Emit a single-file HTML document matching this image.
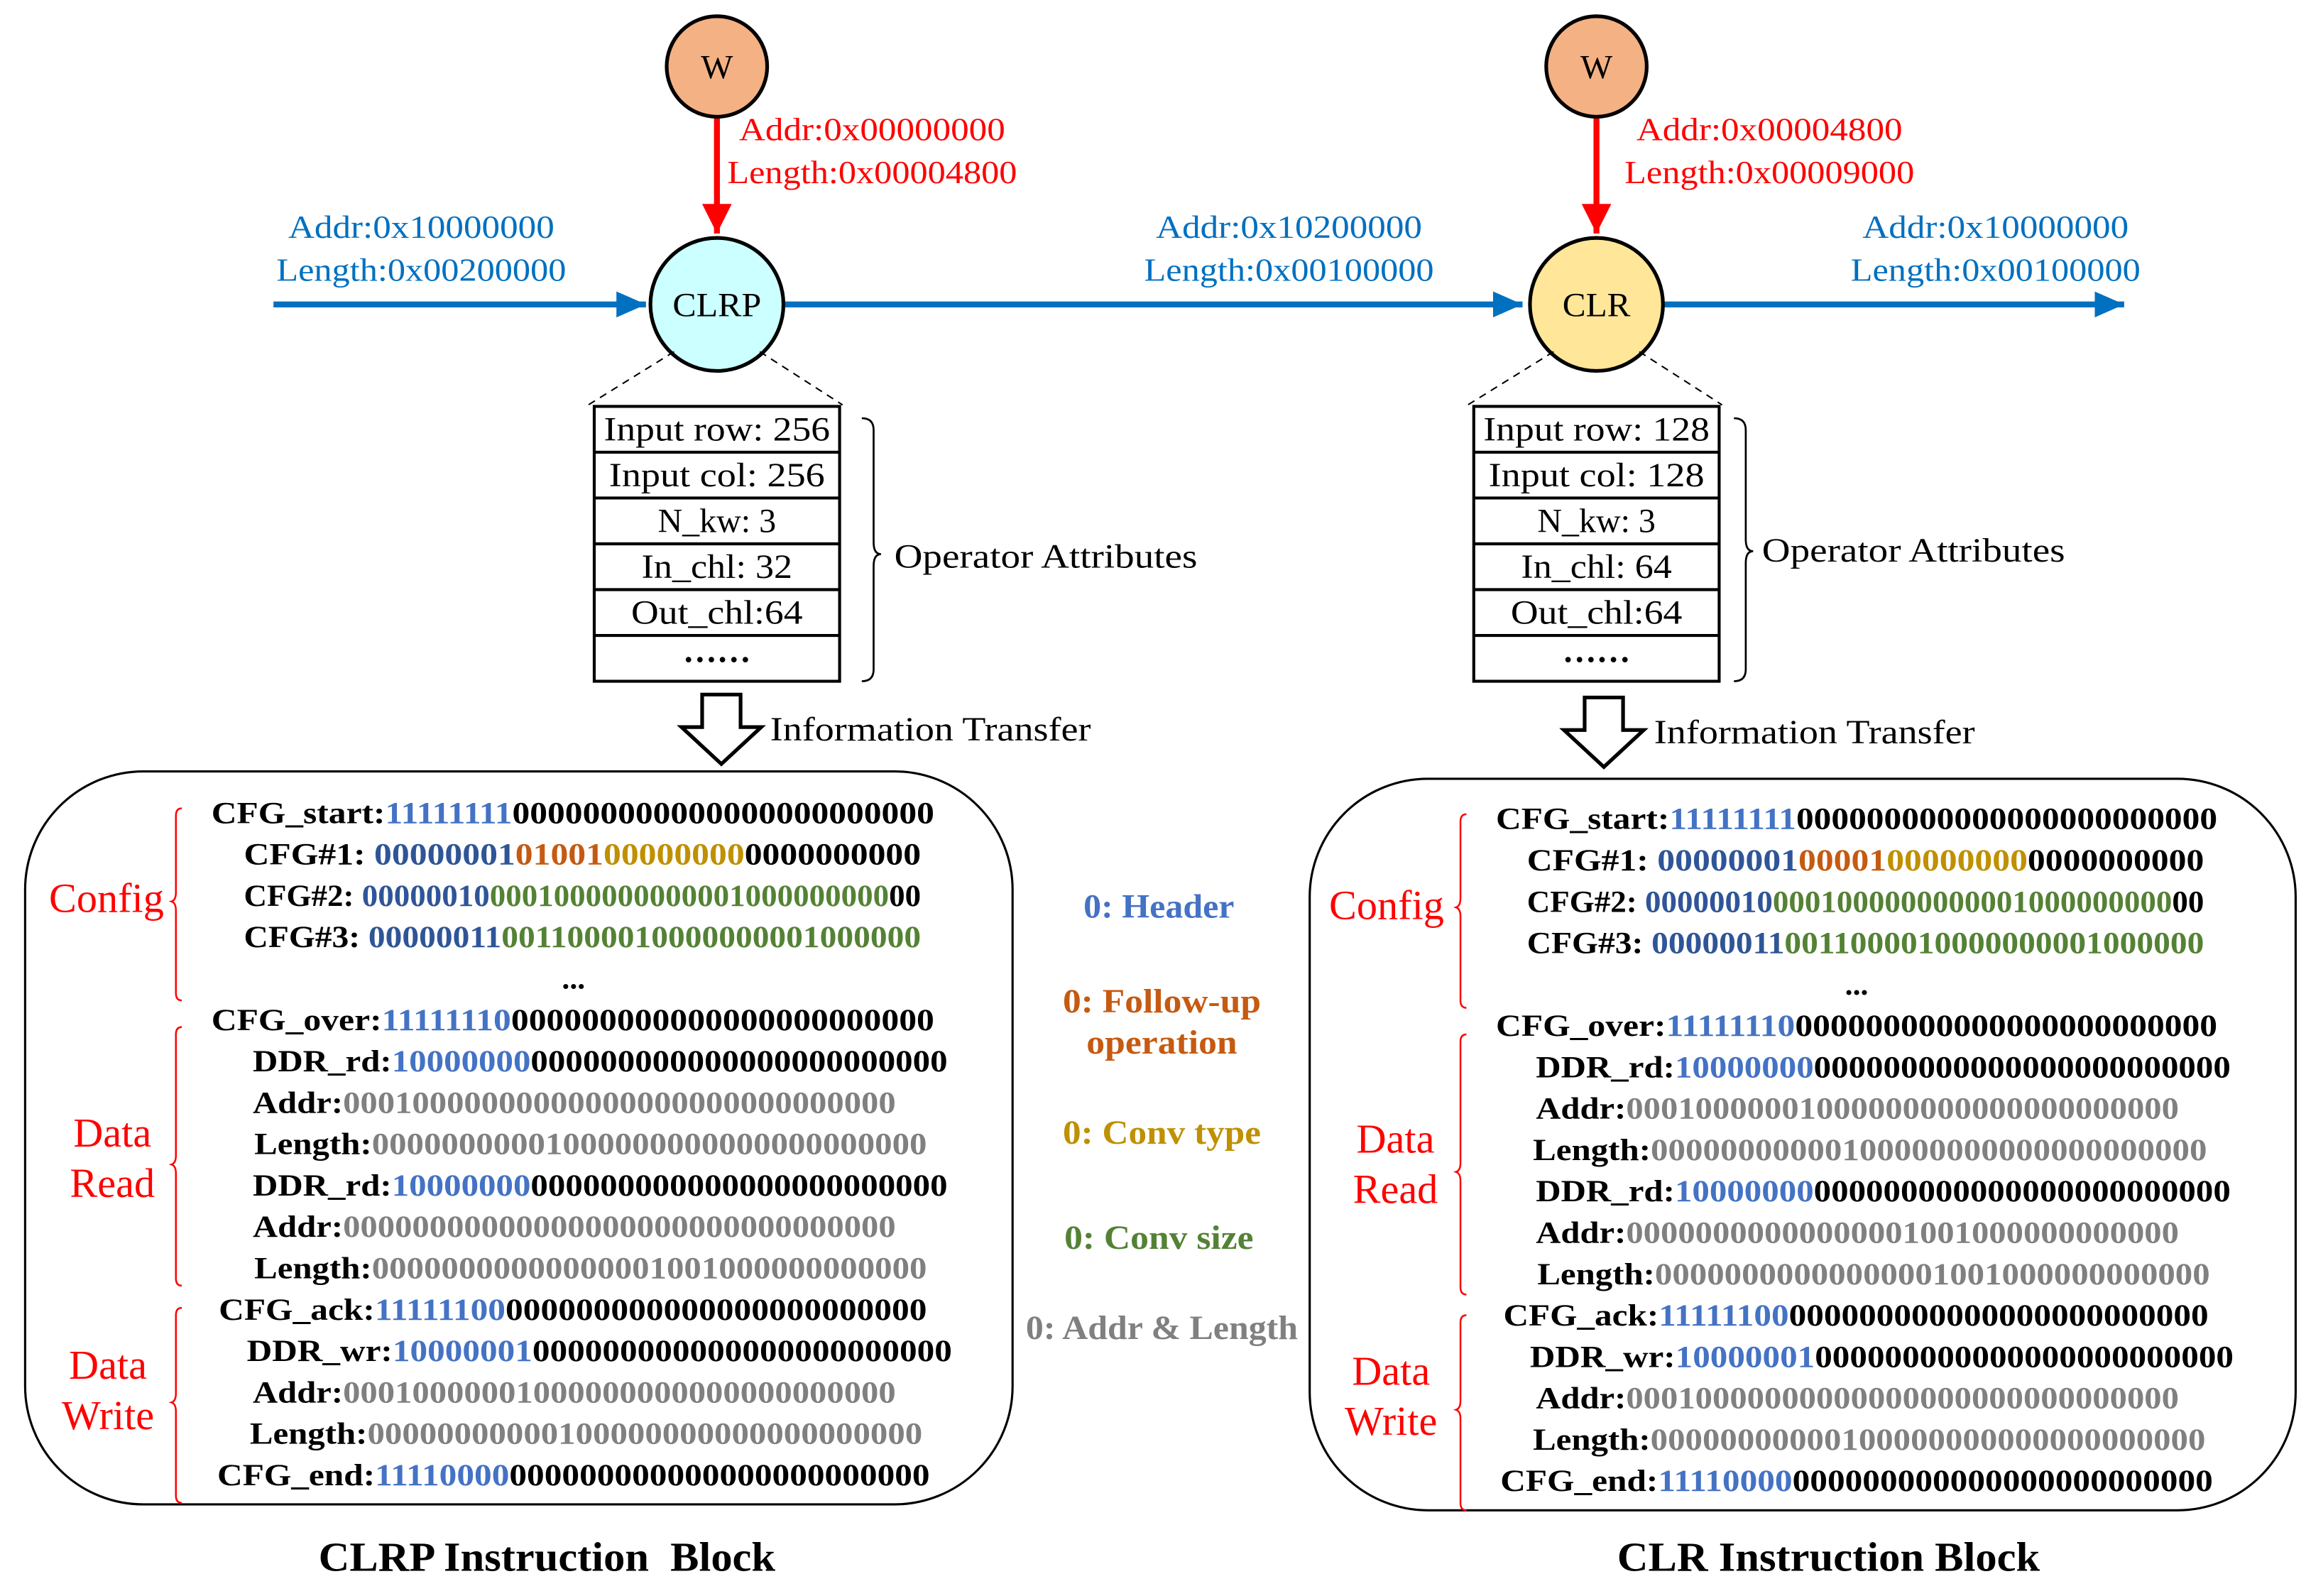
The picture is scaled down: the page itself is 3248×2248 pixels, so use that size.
<!DOCTYPE html>
<html><head><meta charset="utf-8"><style>
html,body{margin:0;padding:0;background:#fff;}
svg{display:block;}
.s{font-family:"Liberation Serif",serif;}
.b{font-family:"Liberation Serif",serif;font-weight:bold;font-size:21px;}
.bl{fill:#2F5597}.lb{fill:#4472C4}.or{fill:#C55A11}.go{fill:#BF9000}.gr{fill:#548235}.gy{fill:#808080}
</style></head><body>
<svg width="3248" height="2248" viewBox="0 0 1560 1080" preserveAspectRatio="none" xmlns="http://www.w3.org/2000/svg">
<defs>
<marker id="ab" markerWidth="6" markerHeight="6" refX="5" refY="3" orient="auto" markerUnits="strokeWidth"><path d="M0,0.8 L5,3 L0,5.2 z" fill="#0070C0"/></marker>
<marker id="ar" markerWidth="6" markerHeight="6" refX="5" refY="3" orient="auto" markerUnits="strokeWidth"><path d="M0,0.5 L5,3 L0,5.5 z" fill="#FF0000"/></marker>
</defs>
<rect width="1560" height="1080" fill="#fff"/>

<line x1="185" y1="206" x2="437" y2="206" stroke="#0070C0" stroke-width="4" marker-end="url(#ab)"/>
<line x1="530" y1="206" x2="1030" y2="206" stroke="#0070C0" stroke-width="4" marker-end="url(#ab)"/>
<line x1="1125" y1="206" x2="1437" y2="206" stroke="#0070C0" stroke-width="4" marker-end="url(#ab)"/>
<line x1="485" y1="79" x2="485" y2="158" stroke="#FF0000" stroke-width="4" marker-end="url(#ar)"/>
<line x1="1080" y1="79" x2="1080" y2="158" stroke="#FF0000" stroke-width="4" marker-end="url(#ar)"/>

<circle cx="485" cy="45" r="34" fill="#F4B183" stroke="#000" stroke-width="2.5"/>
<text x="485" y="53" class="s" font-size="23" text-anchor="middle">W</text>
<circle cx="1080" cy="45" r="34" fill="#F4B183" stroke="#000" stroke-width="2.5"/>
<text x="1080" y="53" class="s" font-size="23" text-anchor="middle">W</text>
<circle cx="485" cy="206" r="45" fill="#CCFFFF" stroke="#000" stroke-width="2.5"/>
<text x="485" y="214" class="s" font-size="23" text-anchor="middle" textLength="60" lengthAdjust="spacingAndGlyphs">CLRP</text>
<circle cx="1080" cy="206" r="45" fill="#FFE699" stroke="#000" stroke-width="2.5"/>
<text x="1080" y="214" class="s" font-size="23" text-anchor="middle" textLength="46" lengthAdjust="spacingAndGlyphs">CLR</text>

<g class="s" font-size="22" fill="#FF0000">
<text x="500" y="95" textLength="180" lengthAdjust="spacingAndGlyphs">Addr:0x00000000</text>
<text x="492" y="124" textLength="196" lengthAdjust="spacingAndGlyphs">Length:0x00004800</text>
<text x="1107" y="95" textLength="180" lengthAdjust="spacingAndGlyphs">Addr:0x00004800</text>
<text x="1099" y="124" textLength="196" lengthAdjust="spacingAndGlyphs">Length:0x00009000</text>
</g>
<g class="s" font-size="22" fill="#0070C0" text-anchor="middle">
<text x="285" y="161" textLength="180" lengthAdjust="spacingAndGlyphs">Addr:0x10000000</text>
<text x="285" y="190" textLength="196" lengthAdjust="spacingAndGlyphs">Length:0x00200000</text>
<text x="872" y="161" textLength="180" lengthAdjust="spacingAndGlyphs">Addr:0x10200000</text>
<text x="872" y="190" textLength="196" lengthAdjust="spacingAndGlyphs">Length:0x00100000</text>
<text x="1350" y="161" textLength="180" lengthAdjust="spacingAndGlyphs">Addr:0x10000000</text>
<text x="1350" y="190" textLength="196" lengthAdjust="spacingAndGlyphs">Length:0x00100000</text>
</g>

<g stroke="#000" stroke-width="1" stroke-dasharray="5,4">
<line x1="456" y1="238" x2="398" y2="274"/><line x1="514" y1="238" x2="570" y2="274"/>
<line x1="1051" y1="238" x2="993" y2="274"/><line x1="1109" y1="238" x2="1165" y2="274"/>
</g>

<g fill="none" stroke="#000" stroke-width="2">
<rect x="402" y="275" width="166" height="186"/>
<line x1="402" y1="306" x2="568" y2="306"/><line x1="402" y1="337" x2="568" y2="337"/><line x1="402" y1="368" x2="568" y2="368"/><line x1="402" y1="399" x2="568" y2="399"/><line x1="402" y1="430" x2="568" y2="430"/>
<rect x="997" y="275" width="166" height="186"/>
<line x1="997" y1="306" x2="1163" y2="306"/><line x1="997" y1="337" x2="1163" y2="337"/><line x1="997" y1="368" x2="1163" y2="368"/><line x1="997" y1="399" x2="1163" y2="399"/><line x1="997" y1="430" x2="1163" y2="430"/>
</g>
<g class="s" font-size="23" text-anchor="middle">
<text x="485" y="298" textLength="153" lengthAdjust="spacingAndGlyphs">Input row: 256</text><text x="485" y="329" textLength="146" lengthAdjust="spacingAndGlyphs">Input col: 256</text><text x="485" y="360" textLength="80" lengthAdjust="spacingAndGlyphs">N_kw: 3</text><text x="485" y="391" textLength="102" lengthAdjust="spacingAndGlyphs">In_chl: 32</text><text x="485" y="422" textLength="116" lengthAdjust="spacingAndGlyphs">Out_chl:64</text><text x="485" y="448" font-weight="bold">……</text>
<text x="1080" y="298" textLength="153" lengthAdjust="spacingAndGlyphs">Input row: 128</text><text x="1080" y="329" textLength="146" lengthAdjust="spacingAndGlyphs">Input col: 128</text><text x="1080" y="360" textLength="80" lengthAdjust="spacingAndGlyphs">N_kw: 3</text><text x="1080" y="391" textLength="102" lengthAdjust="spacingAndGlyphs">In_chl: 64</text><text x="1080" y="422" textLength="116" lengthAdjust="spacingAndGlyphs">Out_chl:64</text><text x="1080" y="448" font-weight="bold">……</text>
</g>
<g fill="none" stroke="#000" stroke-width="1.3">
<path d="M583,283 q8,0 8,8 v76 q0,8 5,8 q-5,0 -5,8 v70 q0,8 -8,8"/>
<path d="M1173,283 q8,0 8,8 v74 q0,8 5,8 q-5,0 -5,8 v72 q0,8 -8,8"/>
</g>
<text x="605" y="384" class="s" font-size="23" textLength="205" lengthAdjust="spacingAndGlyphs">Operator Attributes</text>
<text x="1192" y="380" class="s" font-size="23" textLength="205" lengthAdjust="spacingAndGlyphs">Operator Attributes</text>

<path d="M475,470 h26 v22 h14 l-27,25 l-27,-25 h14 z" fill="#fff" stroke="#000" stroke-width="2.5"/>
<path d="M1072,472 h26 v22 h14 l-27,25 l-27,-25 h14 z" fill="#fff" stroke="#000" stroke-width="2.5"/>
<text x="521" y="501" class="s" font-size="23" textLength="217" lengthAdjust="spacingAndGlyphs">Information Transfer</text>
<text x="1119" y="503" class="s" font-size="23" textLength="217" lengthAdjust="spacingAndGlyphs">Information Transfer</text>

<rect x="17" y="522" width="668" height="496" rx="80" ry="80" fill="none" stroke="#000" stroke-width="1.5"/>
<rect x="886" y="527" width="667" height="495" rx="80" ry="80" fill="none" stroke="#000" stroke-width="1.5"/>

<g fill="none" stroke="#FF0000" stroke-width="1.2">
<path d="M123,547 q-4,0 -4,5 v52 q0,5 -3,6 q3,1 3,6 v56 q0,5 4,5"/>
<path d="M123,695 q-4,0 -4,5 v82 q0,5 -3,6 q3,1 3,6 v71 q0,5 4,5"/>
<path d="M123,885 q-4,0 -4,5 v53 q0,5 -3,6 q3,1 3,6 v57 q0,5 4,5"/>
<path d="M992,551 q-4,0 -4,5 v52 q0,5 -3,6 q3,1 3,6 v57 q0,5 4,5"/>
<path d="M992,700 q-4,0 -4,5 v82 q0,5 -3,6 q3,1 3,6 v72 q0,5 4,5"/>
<path d="M992,890 q-4,0 -4,5 v53 q0,5 -3,6 q3,1 3,6 v57 q0,5 4,5"/>
</g>
<g class="s" font-size="28" fill="#FF0000" text-anchor="middle">
<text x="72" y="617">Config</text><text x="76" y="776">Data</text><text x="76" y="810">Read</text><text x="73" y="933">Data</text><text x="73" y="967">Write</text>
<text x="938" y="622">Config</text><text x="944" y="780">Data</text><text x="944" y="814">Read</text><text x="941" y="937">Data</text><text x="941" y="971">Write</text>
</g>

<g class="b">
<text x="143" y="557" textLength="489" lengthAdjust="spacingAndGlyphs">CFG_start:<tspan class="lb">11111111</tspan>000000000000000000000000</text>
<text x="165" y="585" textLength="458" lengthAdjust="spacingAndGlyphs">CFG#1: <tspan class="bl">00000001</tspan><tspan class="or">01001</tspan><tspan class="go">00000000</tspan>0000000000</text>
<text x="165" y="613" textLength="458" lengthAdjust="spacingAndGlyphs">CFG#2: <tspan class="bl">00000010</tspan><tspan class="gr">0001000000000001000000000</tspan>00</text>
<text x="165" y="641" textLength="458" lengthAdjust="spacingAndGlyphs">CFG#3: <tspan class="bl">00000011</tspan><tspan class="gr">0011000010000000001000000</tspan></text>
<text x="388" y="669" text-anchor="middle">...</text>
<text x="143" y="697" textLength="489" lengthAdjust="spacingAndGlyphs">CFG_over:<tspan class="lb">11111110</tspan>000000000000000000000000</text>
<text x="171" y="725" textLength="470" lengthAdjust="spacingAndGlyphs">DDR_rd:<tspan class="lb">10000000</tspan>000000000000000000000000</text>
<text x="171" y="753" textLength="435" lengthAdjust="spacingAndGlyphs">Addr:<tspan class="gy">00010000000000000000000000000000</tspan></text>
<text x="172" y="781" textLength="455" lengthAdjust="spacingAndGlyphs">Length:<tspan class="gy">00000000001000000000000000000000</tspan></text>
<text x="171" y="809" textLength="470" lengthAdjust="spacingAndGlyphs">DDR_rd:<tspan class="lb">10000000</tspan>000000000000000000000000</text>
<text x="171" y="837" textLength="435" lengthAdjust="spacingAndGlyphs">Addr:<tspan class="gy">00000000000000000000000000000000</tspan></text>
<text x="172" y="865" textLength="455" lengthAdjust="spacingAndGlyphs">Length:<tspan class="gy">00000000000000001001000000000000</tspan></text>
<text x="148" y="893" textLength="479" lengthAdjust="spacingAndGlyphs">CFG_ack:<tspan class="lb">11111100</tspan>000000000000000000000000</text>
<text x="167" y="921" textLength="477" lengthAdjust="spacingAndGlyphs">DDR_wr:<tspan class="lb">10000001</tspan>000000000000000000000000</text>
<text x="171" y="949" textLength="435" lengthAdjust="spacingAndGlyphs">Addr:<tspan class="gy">00010000001000000000000000000000</tspan></text>
<text x="169" y="977" textLength="455" lengthAdjust="spacingAndGlyphs">Length:<tspan class="gy">00000000000100000000000000000000</tspan></text>
<text x="147" y="1005" textLength="482" lengthAdjust="spacingAndGlyphs">CFG_end:<tspan class="lb">11110000</tspan>000000000000000000000000</text>
</g>

<g class="b">
<text x="1012" y="561" textLength="488" lengthAdjust="spacingAndGlyphs">CFG_start:<tspan class="lb">11111111</tspan>000000000000000000000000</text>
<text x="1033" y="589" textLength="458" lengthAdjust="spacingAndGlyphs">CFG#1: <tspan class="bl">00000001</tspan><tspan class="or">00001</tspan><tspan class="go">00000000</tspan>0000000000</text>
<text x="1033" y="617" textLength="458" lengthAdjust="spacingAndGlyphs">CFG#2: <tspan class="bl">00000010</tspan><tspan class="gr">0001000000000001000000000</tspan>00</text>
<text x="1033" y="645" textLength="458" lengthAdjust="spacingAndGlyphs">CFG#3: <tspan class="bl">00000011</tspan><tspan class="gr">0011000010000000001000000</tspan></text>
<text x="1256" y="673" text-anchor="middle">...</text>
<text x="1012" y="701" textLength="488" lengthAdjust="spacingAndGlyphs">CFG_over:<tspan class="lb">11111110</tspan>000000000000000000000000</text>
<text x="1039" y="729" textLength="470" lengthAdjust="spacingAndGlyphs">DDR_rd:<tspan class="lb">10000000</tspan>000000000000000000000000</text>
<text x="1039" y="757" textLength="435" lengthAdjust="spacingAndGlyphs">Addr:<tspan class="gy">00010000001000000000000000000000</tspan></text>
<text x="1037" y="785" textLength="456" lengthAdjust="spacingAndGlyphs">Length:<tspan class="gy">00000000000100000000000000000000</tspan></text>
<text x="1039" y="813" textLength="470" lengthAdjust="spacingAndGlyphs">DDR_rd:<tspan class="lb">10000000</tspan>000000000000000000000000</text>
<text x="1039" y="841" textLength="435" lengthAdjust="spacingAndGlyphs">Addr:<tspan class="gy">00000000000000001001000000000000</tspan></text>
<text x="1040" y="869" textLength="455" lengthAdjust="spacingAndGlyphs">Length:<tspan class="gy">00000000000000001001000000000000</tspan></text>
<text x="1017" y="897" textLength="477" lengthAdjust="spacingAndGlyphs">CFG_ack:<tspan class="lb">11111100</tspan>000000000000000000000000</text>
<text x="1035" y="925" textLength="476" lengthAdjust="spacingAndGlyphs">DDR_wr:<tspan class="lb">10000001</tspan>000000000000000000000000</text>
<text x="1039" y="953" textLength="435" lengthAdjust="spacingAndGlyphs">Addr:<tspan class="gy">00010000000000000000000000000000</tspan></text>
<text x="1037" y="981" textLength="455" lengthAdjust="spacingAndGlyphs">Length:<tspan class="gy">00000000000100000000000000000000</tspan></text>
<text x="1015" y="1009" textLength="482" lengthAdjust="spacingAndGlyphs">CFG_end:<tspan class="lb">11110000</tspan>000000000000000000000000</text>
</g>

<g class="s" font-weight="bold" font-size="23" text-anchor="middle">
<text x="784" y="621" fill="#4472C4" textLength="102" lengthAdjust="spacingAndGlyphs">0: Header</text>
<text x="786" y="685" fill="#C55A11" textLength="134" lengthAdjust="spacingAndGlyphs">0: Follow-up</text>
<text x="786" y="713" fill="#C55A11" textLength="102" lengthAdjust="spacingAndGlyphs">operation</text>
<text x="786" y="774" fill="#BF9000" textLength="134" lengthAdjust="spacingAndGlyphs">0: Conv type</text>
<text x="784" y="845" fill="#548235" textLength="128" lengthAdjust="spacingAndGlyphs">0: Conv size</text>
<text x="786" y="906" fill="#808080" textLength="184" lengthAdjust="spacingAndGlyphs">0: Addr &amp; Length</text>
</g>

<g class="s" font-weight="bold" font-size="28" text-anchor="middle">
<text x="370" y="1063" xml:space="preserve" textLength="309" lengthAdjust="spacingAndGlyphs">CLRP Instruction  Block</text>
<text x="1237" y="1063" textLength="286" lengthAdjust="spacingAndGlyphs">CLR Instruction Block</text>
</g>
</svg>
</body></html>
